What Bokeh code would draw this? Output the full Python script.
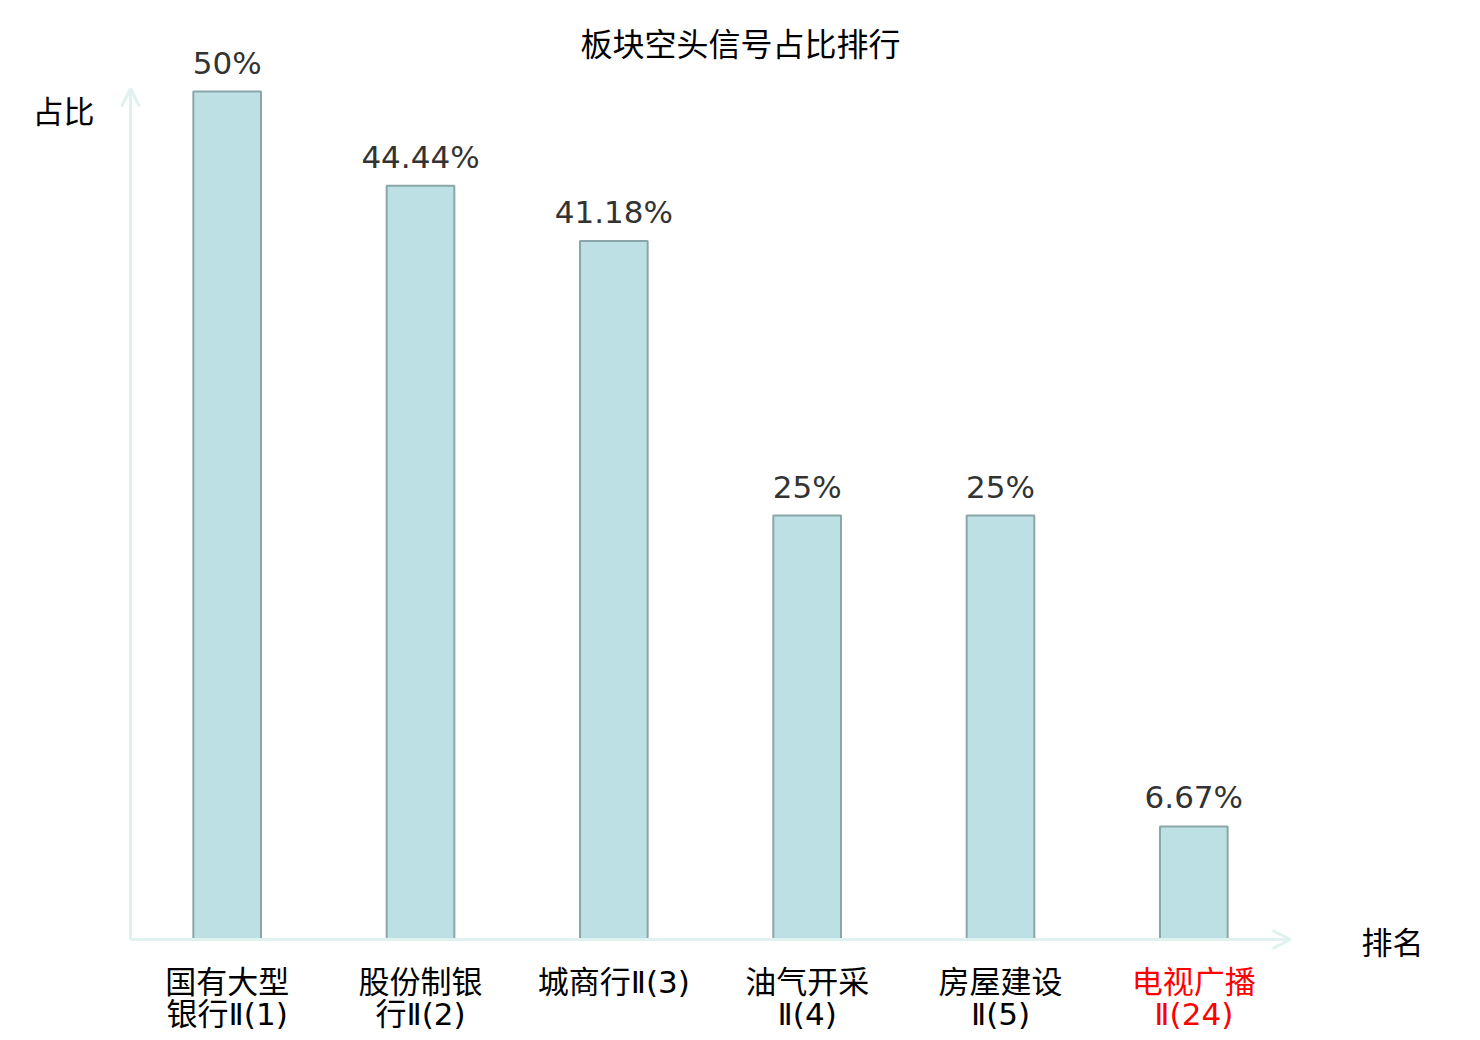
from bokeh.plotting import figure
from bokeh.models import (ColumnDataSource, Range1d, LabelSet, Label,
                          Arrow, OpenHead)
from bokeh.core.properties import value
from bokeh.embed import file_html
from bokeh.resources import INLINE

# ---- data ----
categories = ["国有大型银行Ⅱ(1)", "股份制银行Ⅱ(2)", "城商行Ⅱ(3)",
              "油气开采Ⅱ(4)", "房屋建设Ⅱ(5)", "电视广播Ⅱ(24)"]
tick_line1 = ["国有大型", "股份制银", "城商行Ⅱ(3)", "油气开采", "房屋建设", "电视广播"]
tick_line2 = ["银行Ⅱ(1)", "行Ⅱ(2)", "", "Ⅱ(4)", "Ⅱ(5)", "Ⅱ(24)"]
values = [50, 44.44, 41.18, 25, 25, 6.67]
value_texts = ["50%", "44.44%", "41.18%", "25%", "25%", "6.67%"]
label_colors = ["#000000", "#000000", "#000000", "#000000", "#000000", "#ff0000"]
title_text = "板块空头信号占比排行"
y_name = "占比"
x_name = "排名"

CJK = "Noto Sans CJK SC"
TICK_FONT = "'DejaVu Sans', 'Noto Sans CJK SC'"
AXIS_COLOR = "#dff2ef"
CJK_SIZE = "31px"

W, H = 1480, 1040
PX_X = 193.33   # pixels per category
PX_Y = 16.96    # pixels per percent
X0, Y0 = 130, 939  # page position of origin
x_start = -X0 / PX_X
y_end = Y0 / PX_Y

p = figure(width=W, height=H, output_backend="svg", toolbar_location=None,
           x_range=Range1d(x_start, x_start + W / PX_X),
           y_range=Range1d(y_end - H / PX_Y, y_end),
           min_border=0)
p.xaxis.visible = False
p.yaxis.visible = False
p.xgrid.visible = False
p.ygrid.visible = False
p.outline_line_color = None
p.background_fill_color = "white"
p.border_fill_color = "white"

n = len(categories)
xs = [categories.index(c) + 0.5 for c in categories]
src = ColumnDataSource(dict(x=xs, val=values, vt=value_texts,
                            t1=tick_line1, t2=tick_line2, lc=label_colors,
                            y1=[(Y0 - 981) / PX_Y] * n,
                            y2=[(Y0 - 1013) / PX_Y] * n))

p.vbar(x="x", top="val", width=0.35, source=src,
       fill_color="#bce0e3", line_color="#8aa6a8", line_width=2)

# axis arrows
ax_end_x = n
ax_end_y = (Y0 - 88) / PX_Y
p.add_layout(Arrow(end=OpenHead(size=18, line_color=AXIS_COLOR, line_width=3),
                   x_start=0, y_start=0, x_end=ax_end_x, y_end=0,
                   line_color=AXIS_COLOR, line_width=3))
p.add_layout(Arrow(end=OpenHead(size=18, line_color=AXIS_COLOR, line_width=3),
                   x_start=0, y_start=0, x_end=0, y_end=ax_end_y,
                   line_color=AXIS_COLOR, line_width=3))

# value labels
p.add_layout(LabelSet(x="x", y="val", text="vt", source=src, y_offset=18,
                      text_align="center", text_baseline="alphabetic",
                      text_font=value("DejaVu Sans"), text_font_size="31px",
                      text_color="#333333"))

# category labels (two centred lines)
for col_y, col_t in (("y1", "t1"), ("y2", "t2")):
    p.add_layout(LabelSet(x="x", y=col_y, text=col_t, source=src,
                          text_align="center", text_baseline="middle",
                          text_font=value(TICK_FONT), text_font_size=CJK_SIZE,
                          text_color="lc"))

# title and axis names
p.add_layout(Label(x=(740 - X0) / PX_X, y=(Y0 - 41) / PX_Y, text=title_text,
                   text_align="center", text_baseline="middle", text_font=CJK,
                   text_font_size="32px", text_color="#000000"))
p.add_layout(Label(x=(63 - X0) / PX_X, y=(Y0 - 109) / PX_Y, text=y_name,
                   text_align="center", text_baseline="middle", text_font=CJK,
                   text_font_size=CJK_SIZE, text_color="#000000"))
p.add_layout(Label(x=(1392 - X0) / PX_X, y=(Y0 - 940) / PX_Y, text=x_name,
                   text_align="center", text_baseline="middle", text_font=CJK,
                   text_font_size=CJK_SIZE, text_color="#000000"))

open("out.html", "w").write(file_html(p, INLINE))
